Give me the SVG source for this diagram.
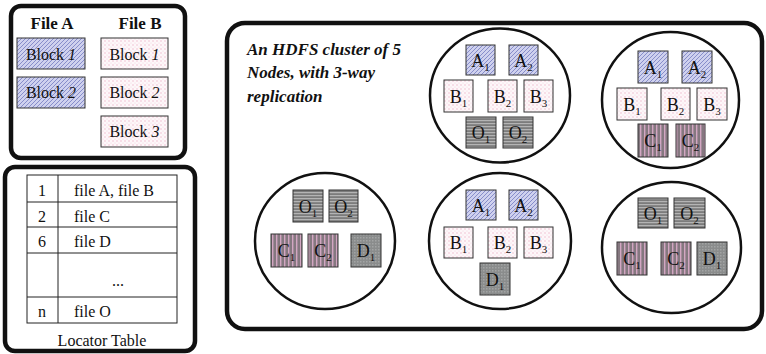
<svg xmlns="http://www.w3.org/2000/svg" width="766" height="354" viewBox="0 0 766 354">
<style>
.frame{fill:#fff;stroke:#111;stroke-width:4.5}
.node{fill:#fff;stroke:#111;stroke-width:2.5}
.blk{stroke:#333;stroke-width:1}
.a{fill:url(#hatchA)}
.b{fill:url(#dotsB)}
.o{fill:url(#stripesO)}
.c{fill:url(#stripesC)}
.d{fill:url(#checkD)}
text{font-family:"Liberation Serif","Times New Roman","DejaVu Serif",serif;fill:#111}
.lbl{font-size:18px;text-anchor:middle}
.sub{font-size:11px}
.t{font-size:16px}
.tb{font-size:17px;font-weight:bold}
.title{font-size:17px;font-weight:bold;font-style:italic}
.grid{fill:none;stroke:#222;stroke-width:1}
</style>
<defs>
<pattern id="hatchA" width="4" height="4" patternUnits="userSpaceOnUse">
<rect width="4" height="4" fill="#cfd1ee"/>
<path d="M-1,1 L1,-1 M0,4 L4,0 M3,5 L5,3" stroke="#7f86c6" stroke-width="0.9"/>
</pattern>
<pattern id="dotsB" width="4" height="4" patternUnits="userSpaceOnUse">
<rect width="4" height="4" fill="#fdf7f9"/>
<circle cx="1" cy="1" r="0.7" fill="#eeb3c8"/>
<circle cx="3" cy="3" r="0.5" fill="#f3ccd9"/>
</pattern>
<pattern id="stripesO" width="4" height="3" patternUnits="userSpaceOnUse">
<rect width="4" height="3" fill="#7c7c7c"/>
<rect y="0" width="4" height="1.2" fill="#b4b4b4"/>
</pattern>
<pattern id="stripesC" width="4" height="4" patternUnits="userSpaceOnUse">
<rect width="4" height="4" fill="#857880"/>
<rect x="0" width="1.4" height="4" fill="#d2a6c2"/>
</pattern>
<pattern id="checkD" width="3" height="3" patternUnits="userSpaceOnUse">
<rect width="3" height="3" fill="#8a8c8c"/>
<rect width="1.5" height="1.5" fill="#a2a4a4"/>
</pattern>
</defs>

<g id="files">
<rect class="frame" x="11" y="6" width="174" height="152" rx="10"/>
<text class="tb" x="52" y="29" text-anchor="middle">File A</text>
<text class="tb" x="140" y="29" text-anchor="middle">File B</text>
<rect class="blk a" x="17" y="38" width="68" height="31"/>
<text class="t" x="51" y="60" text-anchor="middle">Block <tspan font-style="italic">1</tspan></text>
<rect class="blk a" x="17" y="77" width="68" height="31"/>
<text class="t" x="51" y="98" text-anchor="middle">Block <tspan font-style="italic">2</tspan></text>
<rect class="blk b" x="101" y="38" width="67" height="31"/>
<text class="t" x="134.5" y="60" text-anchor="middle">Block <tspan font-style="italic">1</tspan></text>
<rect class="blk b" x="101" y="77" width="67" height="31"/>
<text class="t" x="134.5" y="98" text-anchor="middle">Block <tspan font-style="italic">2</tspan></text>
<rect class="blk b" x="101" y="116" width="67" height="31"/>
<text class="t" x="134.5" y="137" text-anchor="middle">Block <tspan font-style="italic">3</tspan></text>
</g>

<g id="locator">
<rect class="frame" x="5" y="167" width="190" height="184" rx="10"/>
<rect class="grid" x="27" y="175" width="150" height="148"/>
<path class="grid" d="M58,175 V323 M27,202 H177 M27,227 H177 M27,253 H177 M27,297 H177"/>
<text class="t" x="42" y="196" text-anchor="middle">1</text>
<text class="t" x="74" y="196">file A, file B</text>
<text class="t" x="42" y="222" text-anchor="middle">2</text>
<text class="t" x="74" y="222">file C</text>
<text class="t" x="42" y="247" text-anchor="middle">6</text>
<text class="t" x="74" y="247">file D</text>
<text class="t" x="118" y="286" text-anchor="middle">...</text>
<text class="t" x="42" y="317" text-anchor="middle">n</text>
<text class="t" x="74" y="317">file O</text>
<text class="t" x="102" y="346" text-anchor="middle">Locator Table</text>
</g>

<g id="cluster">
<rect class="frame" x="227" y="23" width="535" height="306" rx="18"/>
<text class="title" x="247" y="55">An HDFS cluster of 5</text>
<text class="title" x="247" y="78">Nodes, with 3-way</text>
<text class="title" x="247" y="102">replication</text>
</g>

<g id="node1">
<ellipse class="node" cx="500" cy="95.5" rx="70" ry="67"/>
<rect class="blk a" x="466" y="45" width="29" height="30"/>
<text class="lbl" x="480.5" y="67">A<tspan class="sub" dy="4">1</tspan></text>
<rect class="blk a" x="509" y="45" width="29" height="30"/>
<text class="lbl" x="523.5" y="67">A<tspan class="sub" dy="4">2</tspan></text>
<rect class="blk b" x="444" y="80" width="29" height="32"/>
<text class="lbl" x="458.5" y="103">B<tspan class="sub" dy="4">1</tspan></text>
<rect class="blk b" x="488" y="80" width="29" height="32"/>
<text class="lbl" x="502.5" y="103">B<tspan class="sub" dy="4">2</tspan></text>
<rect class="blk b" x="524" y="80" width="29" height="32"/>
<text class="lbl" x="538.5" y="103">B<tspan class="sub" dy="4">3</tspan></text>
<rect class="blk o" x="466" y="117" width="30" height="31"/>
<text class="lbl" x="481" y="139">O<tspan class="sub" dy="4">1</tspan></text>
<rect class="blk o" x="503" y="117" width="30" height="31"/>
<text class="lbl" x="518" y="139">O<tspan class="sub" dy="4">2</tspan></text>
</g>

<g id="node2">
<ellipse class="node" cx="670.5" cy="100" rx="68.5" ry="68"/>
<rect class="blk a" x="638" y="51" width="30" height="32"/>
<text class="lbl" x="653" y="74">A<tspan class="sub" dy="4">1</tspan></text>
<rect class="blk a" x="682" y="51" width="30" height="32"/>
<text class="lbl" x="697" y="74">A<tspan class="sub" dy="4">2</tspan></text>
<rect class="blk b" x="617" y="88" width="30" height="32"/>
<text class="lbl" x="632" y="111">B<tspan class="sub" dy="4">1</tspan></text>
<rect class="blk b" x="661" y="88" width="29" height="32"/>
<text class="lbl" x="675.5" y="111">B<tspan class="sub" dy="4">2</tspan></text>
<rect class="blk b" x="697" y="88" width="30" height="32"/>
<text class="lbl" x="712" y="111">B<tspan class="sub" dy="4">3</tspan></text>
<rect class="blk c" x="638" y="124" width="30" height="33"/>
<text class="lbl" x="653" y="147">C<tspan class="sub" dy="4">1</tspan></text>
<rect class="blk c" x="676" y="124" width="29" height="33"/>
<text class="lbl" x="690.5" y="147">C<tspan class="sub" dy="4">2</tspan></text>
</g>

<g id="node3">
<ellipse class="node" cx="325" cy="241" rx="70" ry="68"/>
<rect class="blk o" x="293" y="190" width="30" height="32"/>
<text class="lbl" x="308" y="213">O<tspan class="sub" dy="4">1</tspan></text>
<rect class="blk o" x="329" y="190" width="29" height="32"/>
<text class="lbl" x="343.5" y="213">O<tspan class="sub" dy="4">2</tspan></text>
<rect class="blk c" x="271" y="234" width="31" height="33"/>
<text class="lbl" x="286.5" y="257">C<tspan class="sub" dy="4">1</tspan></text>
<rect class="blk c" x="308" y="234" width="30" height="33"/>
<text class="lbl" x="323" y="257">C<tspan class="sub" dy="4">2</tspan></text>
<rect class="blk d" x="351" y="234" width="30" height="33"/>
<text class="lbl" x="366" y="257">D<tspan class="sub" dy="4">1</tspan></text>
</g>

<g id="node4">
<ellipse class="node" cx="500" cy="241" rx="71" ry="68"/>
<rect class="blk a" x="466" y="190" width="30" height="30"/>
<text class="lbl" x="481" y="212">A<tspan class="sub" dy="4">1</tspan></text>
<rect class="blk a" x="509" y="190" width="29" height="30"/>
<text class="lbl" x="523.5" y="212">A<tspan class="sub" dy="4">2</tspan></text>
<rect class="blk b" x="444" y="227" width="29" height="31"/>
<text class="lbl" x="458.5" y="249">B<tspan class="sub" dy="4">1</tspan></text>
<rect class="blk b" x="488" y="227" width="29" height="31"/>
<text class="lbl" x="502.5" y="249">B<tspan class="sub" dy="4">2</tspan></text>
<rect class="blk b" x="524" y="227" width="29" height="31"/>
<text class="lbl" x="538.5" y="249">B<tspan class="sub" dy="4">3</tspan></text>
<rect class="blk d" x="480" y="263" width="30" height="32"/>
<text class="lbl" x="495" y="286">D<tspan class="sub" dy="4">1</tspan></text>
</g>

<g id="node5">
<ellipse class="node" cx="671.5" cy="247.5" rx="69.5" ry="65.5"/>
<rect class="blk o" x="638" y="198" width="30" height="30"/>
<text class="lbl" x="653" y="220">O<tspan class="sub" dy="4">1</tspan></text>
<rect class="blk o" x="674" y="198" width="31" height="30"/>
<text class="lbl" x="689.5" y="220">O<tspan class="sub" dy="4">2</tspan></text>
<rect class="blk c" x="617" y="242" width="30" height="33"/>
<text class="lbl" x="632" y="265">C<tspan class="sub" dy="4">1</tspan></text>
<rect class="blk c" x="661" y="242" width="30" height="33"/>
<text class="lbl" x="676" y="265">C<tspan class="sub" dy="4">2</tspan></text>
<rect class="blk d" x="697" y="242" width="30" height="33"/>
<text class="lbl" x="712" y="265">D<tspan class="sub" dy="4">1</tspan></text>
</g>

<g id="connectors"></g>
</svg>
